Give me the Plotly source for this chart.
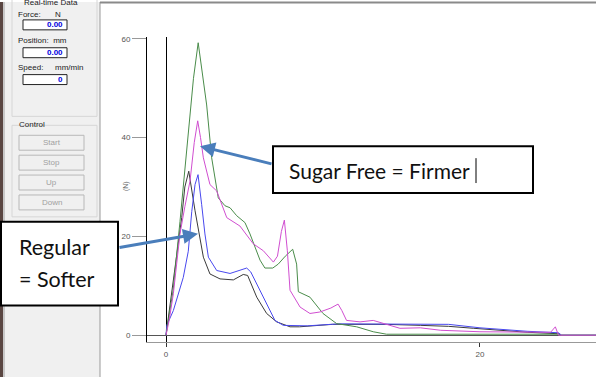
import plotly.graph_objects as go

# ---- data (time in s, force in N) ----
green_t = [0, 0.45, 0.89, 1.21, 1.5, 1.75, 2.05, 2.3, 2.59, 2.91, 3.33, 3.76, 4.08, 4.5, 5.03, 5.35, 5.7, 5.99, 6.3, 6.8, 7.15, 7.6, 8.07, 8.32, 8.43, 9.17, 10.0, 10.87, 12.15, 13.2, 14.05, 20.0, 25.0, 25.1, 27.4]
green_f = [0, 9, 23, 33.9, 44, 52, 59.2, 53, 46.6, 35.9, 27.8, 26.2, 25.8, 24.2, 22.8, 20.5, 17.5, 15.2, 13.6, 13.6, 14.4, 16, 17.4, 14.4, 8.8, 7.7, 4.4, 2.35, 1.7, 0.7, 0.2, 0.2, 0.2, 0, 0]

magenta_t = [0, 0.2, 0.47, 0.89, 1.2, 1.53, 1.8, 2.02, 2.2, 2.38, 2.8, 3.23, 3.87, 4.71, 5.56, 6.2, 6.84, 7.1, 7.35, 7.54, 7.73, 7.9, 8.54, 9.17, 9.8, 10.5, 10.96, 11.2, 11.5, 12.36, 13.2, 14.9, 16.2, 17.5, 20.0, 24.5, 24.8, 25.0, 27.4]
magenta_f = [0, 3, 8.4, 20.5, 26, 31.2, 39, 43.4, 40, 35.9, 30.5, 29.2, 23.8, 22.1, 18.5, 17.1, 14.8, 16, 21, 23.3, 17.1, 9.1, 5.7, 4.4, 4.7, 5.5, 6.3, 5, 3.0, 2.7, 3.0, 1.4, 1.5, 1.0, 0.7, 0.6, 1.7, 0, 0]

black_t = [0, 0.15, 0.57, 1.0, 1.2, 1.45, 1.85, 2.17, 2.38, 2.8, 3.44, 4.29, 4.7, 4.92, 5.2, 5.5, 5.78, 6.41, 7.05, 7.9, 8.5, 10.6, 14.0, 16.2, 18.0, 19.6, 23.0, 25.0, 25.1, 27.4]
black_f = [0, 3.7, 13.8, 23.8, 30, 33.2, 25.2, 19.1, 15.8, 12.4, 11.4, 11.2, 12.0, 12.3, 12.1, 10, 7.7, 4.4, 2.7, 1.7, 1.7, 2.2, 2.2, 2.0, 1.8, 1.4, 0.6, 0.3, 0, 0]

blue_t = [0, 0.05, 0.47, 0.89, 1.1, 1.42, 1.64, 1.85, 2.04, 2.27, 2.48, 2.7, 3.23, 4.08, 5.14, 5.4, 5.78, 6.41, 6.94, 7.47, 9.0, 11.0, 15.0, 18.0, 20.0, 23.0, 25.0, 25.2, 27.4]
blue_f = [0, 2, 5, 9.7, 11.7, 17, 25, 30.5, 32.5, 26.5, 20.5, 15.8, 13.1, 12.5, 13.6, 12.8, 10.4, 6.4, 3, 2.0, 1.9, 2.3, 2.3, 2.2, 1.5, 0.8, 0.5, 0, 0]

y_ticks = [0, 20, 40, 60]
x_ticks = [0, 20]

W, H = 596, 377


def X(px):
    return px / W


def Y(py):
    return 1 - py / H


fig = go.Figure()
for t, f, c in [(black_t, black_f, "#3a3a3a"), (blue_t, blue_f, "#4848ee"),
                (green_t, green_f, "#4a8c4a"), (magenta_t, magenta_f, "#d04ed0")]:
    fig.add_trace(go.Scatter(x=t, y=f, mode="lines", line=dict(color=c, width=1),
                             hoverinfo="skip"))

shapes = []
annos = []


def rect(x0, y0, x1, y1, fill=None, line=None, lw=1):
    shapes.append(dict(type="rect", xref="paper", yref="paper", x0=X(x0), x1=X(x1),
                       y0=Y(y1), y1=Y(y0), fillcolor=fill or "rgba(0,0,0,0)",
                       line=dict(color=line or "rgba(0,0,0,0)", width=lw if line else 0),
                       layer="above"))


def text(px, py, s, size=8, color="#222", xanchor="left", bold=False, family="Liberation Sans"):
    if bold:
        s = "<b>" + s + "</b>"
    annos.append(dict(xref="paper", yref="paper", x=X(px), y=Y(py), text=s, showarrow=False,
                      xanchor=xanchor, yanchor="middle",
                      font=dict(size=size, color=color, family=family)))


# left control panel
rect(0, 0, 100, 377, fill="#f0f0f0")
rect(0, 0, 3, 377, fill="#5a4642")
rect(3, 0, 5, 377, fill="#c8c8c8")
shapes.append(dict(type="line", xref="paper", yref="paper", x0=X(100), x1=X(100), y0=0, y1=1,
                   line=dict(color="#9a9a9a", width=1)))
shapes.append(dict(type="line", xref="paper", yref="paper", x0=X(100), x1=1, y0=Y(0.5), y1=Y(0.5),
                   line=dict(color="#8a8a8a", width=2)))
rect(12, -5, 97, 115, line="#d6d6d6")
text(22, 0, "Real-time Data", size=8, color="#222")
text(16, 13, "Force:", size=8)
text(53, 13, "N", size=8)
rect(23, 18, 67, 28, fill="white", line="#222")
text(65, 23, "0.00", size=8, color="#0000dd", xanchor="right", bold=True)
text(16, 39, "Position:&nbsp;&nbsp;mm", size=8)
rect(23, 46, 67, 56, fill="white", line="#222")
text(65, 51, "0.00", size=8, color="#0000dd", xanchor="right", bold=True)
text(16, 66, "Speed:", size=8)
text(53, 66, "mm/min", size=8)
rect(23, 73, 67, 83, fill="white", line="#222")
text(65, 78, "0", size=8, color="#0000dd", xanchor="right", bold=True)
rect(12, 124, 97, 216, line="#d6d6d6")
text(17, 123, "Control", size=8)
for (y0, y1, s) in [(134, 149, "Start"), (154, 169, "Stop"), (174, 189, "Up"), (194, 209, "Down")]:
    rect(19, y0, 84, y1, fill="#f0f0f0", line="#b8b8b8")
    text(51.5, (y0 + y1) / 2, s, size=8, color="#a0a0a0", xanchor="center")

# callout boxes
rect(273, 145, 533, 192, fill="white", line="black", lw=2)
text(287, 169, "Sugar Free = Firmer", size=21, color="#111", family="Lato")
shapes.append(dict(type="line", xref="paper", yref="paper", x0=X(476), x1=X(476), y0=Y(182), y1=Y(157),
                   line=dict(color="black", width=1)))
rect(1, 221, 118, 305, fill="white", line="black", lw=2)
text(17, 246, "Regular", size=21.5, color="#111", family="Lato")
text(17, 278, "= Softer", size=21.5, color="#111", family="Lato")

# arrows
annos.append(dict(xref="paper", yref="paper", x=X(200), y=Y(145), ax=73, ay=18, text="",
                  showarrow=True, arrowhead=2, arrowsize=1, arrowwidth=3, arrowcolor="#4a7ebb",
                  standoff=0))
annos.append(dict(xref="paper", yref="paper", x=X(198), y=Y(233), ax=-80, ay=14, text="",
                  showarrow=True, arrowhead=2, arrowsize=1, arrowwidth=3, arrowcolor="#4a7ebb",
                  standoff=0))

# axis title
annos.append(dict(xref="paper", yref="paper", x=X(120), y=Y(185), text="(N)", showarrow=False,
                  textangle=-90, font=dict(size=7, color="#666", family="Liberation Sans")))

fig.update_layout(
    width=W, height=H, margin=dict(l=0, r=0, t=0, b=0),
    paper_bgcolor="white", plot_bgcolor="white", showlegend=False,
    xaxis=dict(domain=[X(147), 1], range=[-1.21, 27.39], tickvals=x_ticks,
               showgrid=False, zeroline=True, zerolinecolor="black", zerolinewidth=1,
               showline=True, linecolor="#999", linewidth=1, ticks="outside", ticklen=4,
               tickcolor="#333", tickfont=dict(size=8, color="#555", family="Liberation Sans")),
    yaxis=dict(domain=[Y(342), Y(35)], range=[-1.409, 60.40], tickvals=y_ticks,
               showgrid=False, zeroline=True, zerolinecolor="#555", zerolinewidth=1,
               showline=True, linecolor="black", linewidth=1, ticks="outside", ticklen=14,
               tickcolor="#999", tickfont=dict(size=8, color="#555", family="Liberation Sans")),
    shapes=shapes, annotations=annos,
)

fig.write_html("out.html", config={"displayModeBar": False},
               post_script="document.body.style.margin='0';document.body.style.overflow='hidden';")
